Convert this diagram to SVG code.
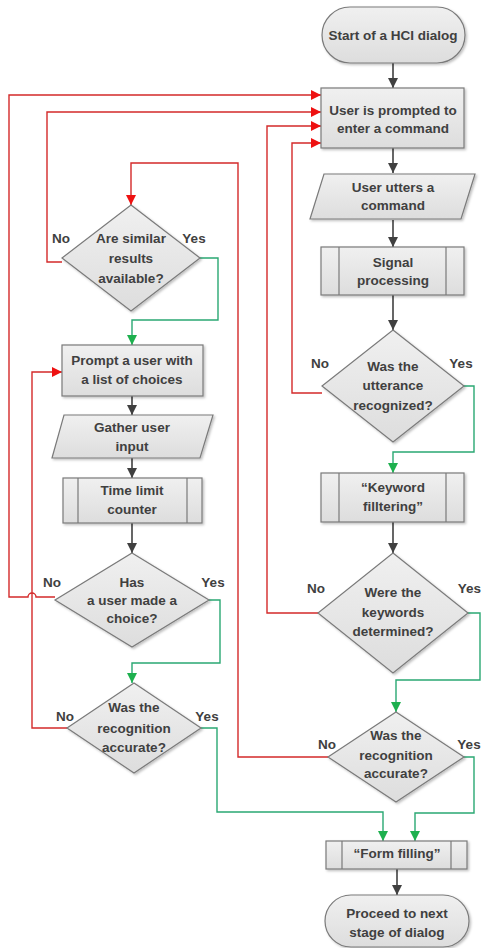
<svg xmlns="http://www.w3.org/2000/svg" width="482" height="948" viewBox="0 0 482 948">
<style>
.s{fill:url(#g);stroke:#7a7a7a;stroke-width:1.2;filter:url(#sh)}
.in{stroke:#7a7a7a;stroke-width:1.2;fill:none}
text{font-family:"Liberation Sans",Arial,sans-serif;font-weight:bold;font-size:13.5px;fill:#404040;text-anchor:middle}
.dk{stroke:#404040;stroke-width:1.6;fill:none;marker-end:url(#ad)}
.rda{stroke:#d42a2a;stroke-width:1.4;fill:none;marker-end:url(#ar)}
.gr{stroke:#2aa873;stroke-width:1.4;fill:none;marker-end:url(#ag)}
</style>
<defs>
<linearGradient id="g" x1="0" y1="0" x2="0" y2="1"><stop offset="0" stop-color="#f0f0f0"/><stop offset="1" stop-color="#dddddd"/></linearGradient>
<filter id="sh" x="-10%" y="-10%" width="130%" height="130%"><feDropShadow dx="1.5" dy="1.5" stdDeviation="1.2" flood-color="#000" flood-opacity="0.25"/></filter>
<marker id="ad" markerUnits="userSpaceOnUse" markerWidth="10" markerHeight="10" refX="10" refY="5" orient="auto"><path d="M0,0 L10,5 L0,10 z" fill="#404040"/></marker>
<marker id="ar" markerUnits="userSpaceOnUse" markerWidth="10" markerHeight="10" refX="10" refY="5" orient="auto"><path d="M0,0 L10,5 L0,10 z" fill="#ee1111"/></marker>
<marker id="ag" markerUnits="userSpaceOnUse" markerWidth="10" markerHeight="10" refX="10" refY="5" orient="auto"><path d="M0,0 L10,5 L0,10 z" fill="#1db04e"/></marker>
</defs>

<g id="connectors">
<path class="dk" d="M393,63 V88"/>
<path class="dk" d="M393,148 V173"/>
<path class="dk" d="M393,220 V247"/>
<path class="dk" d="M393,295 V330"/>
<path class="dk" d="M393,522 V553"/>
<path class="dk" d="M397,869 V895"/>
<path class="dk" d="M132,396 V415"/>
<path class="dk" d="M132,458 V478"/>
<path class="dk" d="M132,523 V553"/>
<path class="rda" d="M55,597 H36 A4,4 0 0 0 28,597 H9 V95 H321"/>
<path class="rda" d="M62,262 H47 V112 H321"/>
<path class="rda" d="M318,613 H267 V126 H321"/>
<path class="rda" d="M322,393 H292 V143 H321"/>
<path class="rda" d="M67,728 H32 V372 H62"/>
<path class="rda" d="M328,757 H238 V163 H131 V205"/>
<path class="gr" d="M200,258 H218 V320 H132 V345"/>
<path class="gr" d="M464,386 H474 V452 H393 V473"/>
<path class="gr" d="M209,600 H220 V663 H132 V683"/>
<path class="gr" d="M468,613 H480 V680 H396 V712"/>
<path class="gr" d="M201,728 H217 V812 H383 V841"/>
<path class="gr" d="M464,757 H474 V813 H415 V841"/>
</g>

<g id="start">
<rect class="s" x="322" y="7" width="143" height="56" rx="28"/>
<text x="393" y="40">Start of a HCI dialog</text>
</g>
<g id="prompt">
<rect class="s" x="321" y="88" width="143" height="60"/>
<text x="393" y="115">User is prompted to</text>
<text x="393" y="133">enter a command</text>
</g>
<g id="utter">
<polygon class="s" points="324,174 475,174 461,219 310,219"/>
<text x="393" y="192">User utters a</text>
<text x="393" y="210">command</text>
</g>
<g id="signal">
<rect class="s" x="321" y="247" width="143" height="48"/>
<path class="in" d="M339,247 V295 M446,247 V295"/>
<text x="393" y="267">Signal</text>
<text x="393" y="285">processing</text>
</g>
<g id="recognized">
<polygon class="s" points="393,330 464,386 393,442 322,386"/>
<text x="393" y="371">Was the</text>
<text x="393" y="390">utterance</text>
<text x="393" y="410">recognized?</text>
<text x="320" y="368">No</text>
<text x="461" y="368">Yes</text>
</g>
<g id="keyword">
<rect class="s" x="321" y="473" width="143" height="49"/>
<path class="in" d="M339,473 V522 M446,473 V522"/>
<text x="393" y="492">“Keyword</text>
<text x="393" y="511">filltering”</text>
</g>
<g id="keywords">
<polygon class="s" points="393,553 468,613 393,673 318,613"/>
<text x="393" y="597">Were the</text>
<text x="393" y="617">keywords</text>
<text x="393" y="636">determined?</text>
<text x="316" y="593">No</text>
<text x="481" y="593" style="text-anchor:end">Yes</text>
</g>
<g id="accurate2">
<polygon class="s" points="396,712 464,757 396,802 328,757"/>
<text x="396" y="740">Was the</text>
<text x="396" y="760">recognition</text>
<text x="396" y="778">accurate?</text>
<text x="327" y="749">No</text>
<text x="469" y="749">Yes</text>
</g>
<g id="form">
<rect class="s" x="326" y="841" width="141" height="28"/>
<path class="in" d="M342,841 V869 M451,841 V869"/>
<text x="397" y="858">“Form filling”</text>
</g>
<g id="proceed">
<rect class="s" x="325" y="895" width="144" height="52" rx="26"/>
<text x="397" y="918">Proceed to next</text>
<text x="397" y="937">stage of dialog</text>
</g>

<g id="similar">
<polygon class="s" points="131,205 200,258 131,311 62,258"/>
<text x="131" y="243">Are similar</text>
<text x="131" y="263">results</text>
<text x="131" y="283">available?</text>
<text x="61" y="243">No</text>
<text x="194" y="243">Yes</text>
</g>
<g id="choices">
<rect class="s" x="62" y="345" width="141" height="51"/>
<text x="132" y="365">Prompt a user with</text>
<text x="132" y="384">a list of choices</text>
</g>
<g id="gather">
<polygon class="s" points="64,415 213,415 200,458 52,458"/>
<text x="132" y="432">Gather user</text>
<text x="132" y="451">input</text>
</g>
<g id="timer">
<rect class="s" x="63" y="478" width="139" height="45"/>
<path class="in" d="M78,478 V523 M187,478 V523"/>
<text x="132" y="495">Time limit</text>
<text x="132" y="514">counter</text>
</g>
<g id="choice">
<polygon class="s" points="132,553 209,600 132,647 55,600"/>
<text x="132" y="587">Has</text>
<text x="132" y="605">a user made a</text>
<text x="132" y="623">choice?</text>
<text x="52" y="587">No</text>
<text x="213" y="587">Yes</text>
</g>
<g id="accurate1">
<polygon class="s" points="134,683 201,728 134,773 67,728"/>
<text x="134" y="712">Was the</text>
<text x="134" y="733">recognition</text>
<text x="134" y="752">accurate?</text>
<text x="65" y="721">No</text>
<text x="207" y="721">Yes</text>
</g>
</svg>
